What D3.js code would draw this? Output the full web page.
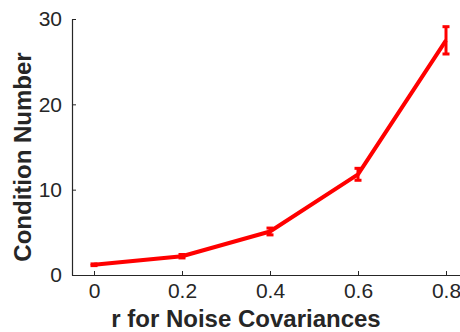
<!DOCTYPE html>
<html>
<head>
<meta charset="utf-8">
<script src="https://cdn.jsdelivr.net/npm/d3@7"></script>
<style>
  body { margin: 0; background: #fff; }
  svg { display: block; font-family: "Liberation Sans", Arial, sans-serif; }
</style>
</head>
<body>
<div id="wrapper"></div>
<script>
// data
const rValues = [0, 0.2, 0.4, 0.6, 0.8]
const condMeans = [1.2, 2.2, 5.1, 11.8, 27.5]
const condErrors = [0.1, 0.2, 0.4, 0.7, 1.6]
const xTicks = [0, 0.2, 0.4, 0.6, 0.8]
const yTicks = [0, 10, 20, 30]

function drawChart() {
  const dataset = rValues.map((r, i) => ({x: r, y: condMeans[i], e: condErrors[i]}))

  const dimensions = {
    width: 460,
    height: 332,
    margin: {top: 19, right: 0, bottom: 57, left: 72},
  }
  dimensions.boundedWidth = dimensions.width - dimensions.margin.left - dimensions.margin.right
  dimensions.boundedHeight = dimensions.height - dimensions.margin.top - dimensions.margin.bottom

  const svg = d3.select("#wrapper").append("svg")
      .attr("width", dimensions.width)
      .attr("height", dimensions.height)

  const bounds = svg.append("g")
      .attr("transform", `translate(${dimensions.margin.left},${dimensions.margin.top})`)

  // x axis runs a bit past the right edge of the window
  const xScale = d3.scaleLinear()
    .domain([-0.05, 0.85])
    .range([0, 88 / 0.2 * 0.9])

  const yScale = d3.scaleLinear()
    .domain([0, 30])
    .range([dimensions.boundedHeight, 0])

  const axisColor = "#262626"

  const xAxis = bounds.append("g")
      .attr("transform", `translate(0,${dimensions.boundedHeight})`)
      .call(d3.axisBottom(xScale).tickValues(xTicks).tickSizeInner(-4).tickSizeOuter(0).tickPadding(8).tickFormat(d3.format("")))
  const yAxis = bounds.append("g")
      .call(d3.axisLeft(yScale).tickValues(yTicks).tickSizeInner(-4).tickSizeOuter(0).tickPadding(10))

  ;[xAxis, yAxis].forEach(ax => {
    ax.select(".domain").attr("stroke", axisColor).attr("stroke-width", 1.2)
    ax.selectAll(".tick line").attr("stroke", axisColor).attr("stroke-width", 1)
    ax.selectAll(".tick text")
      .attr("fill", axisColor)
      .style("font-size", "21px")
      .style("font-family", "'Liberation Sans', Arial, sans-serif")
  })

  // error bars
  const capW = 3.5
  const bars = bounds.append("g")
    .selectAll("g")
    .data(dataset)
    .join("g")
      .attr("stroke", "#ff0000")
      .attr("stroke-width", 3)
  bars.append("line")
      .attr("x1", d => xScale(d.x)).attr("x2", d => xScale(d.x))
      .attr("y1", d => yScale(d.y - d.e)).attr("y2", d => yScale(d.y + d.e))
  bars.append("line")
      .attr("x1", d => xScale(d.x) - capW).attr("x2", d => xScale(d.x) + capW)
      .attr("y1", d => yScale(d.y + d.e)).attr("y2", d => yScale(d.y + d.e))
  bars.append("line")
      .attr("x1", d => xScale(d.x) - capW).attr("x2", d => xScale(d.x) + capW)
      .attr("y1", d => yScale(d.y - d.e)).attr("y2", d => yScale(d.y - d.e))

  const lineGenerator = d3.line()
    .x(d => xScale(d.x))
    .y(d => yScale(d.y))

  bounds.append("path")
      .attr("d", lineGenerator(dataset))
      .attr("fill", "none")
      .attr("stroke", "#ff0000")
      .attr("stroke-width", 4)
      .attr("stroke-linejoin", "round")

  // labels
  svg.append("text")
      .attr("x", 246)
      .attr("y", 327)
      .attr("text-anchor", "middle")
      .attr("fill", axisColor)
      .style("font-size", "24px")
      .style("font-weight", "bold")
      .text("r for Noise Covariances")

  svg.append("text")
      .attr("transform", `translate(31,${dimensions.margin.top + dimensions.boundedHeight / 2 + 10}) rotate(-90)`)
      .attr("text-anchor", "middle")
      .attr("fill", axisColor)
      .style("font-size", "24px")
      .style("font-weight", "bold")
      .text("Condition Number")
}
drawChart()
</script>
</body>
</html>
